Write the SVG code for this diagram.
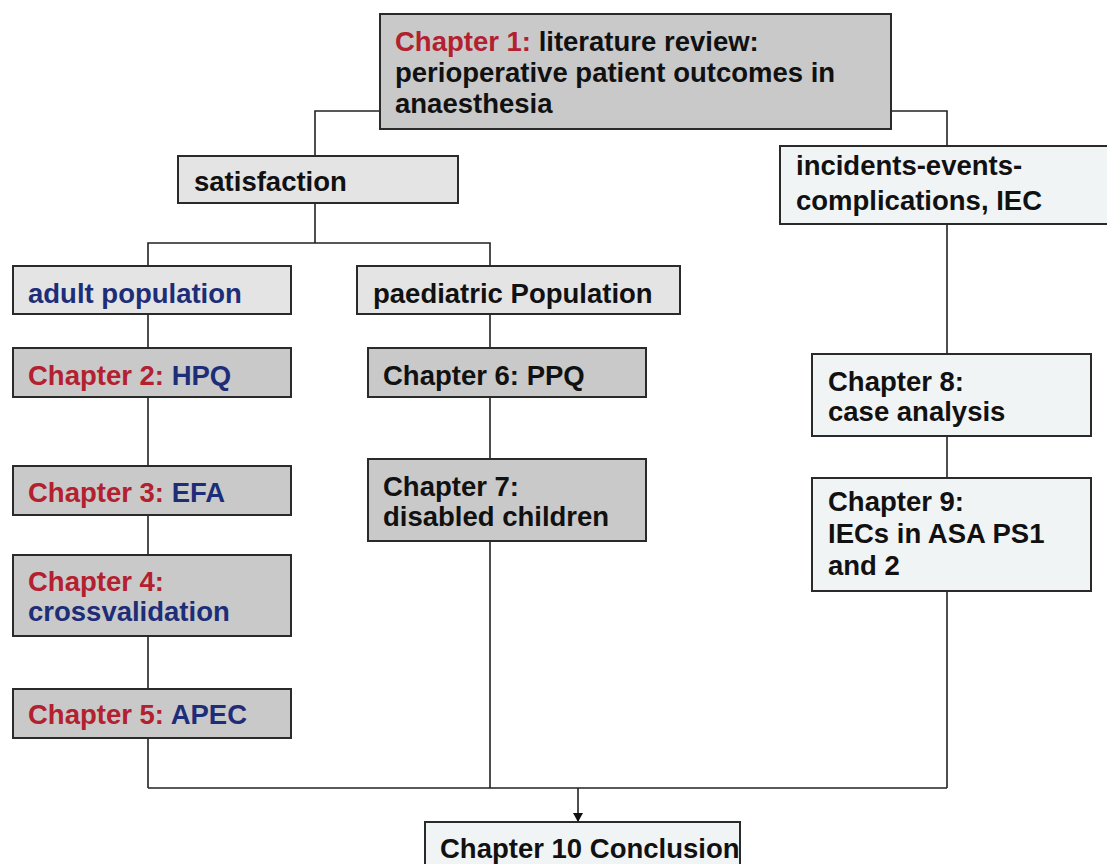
<svg xmlns="http://www.w3.org/2000/svg" width="1107" height="864" viewBox="0 0 1107 864">
<defs>
<style>
text{font-family:"Liberation Sans",Arial,sans-serif;font-size:27.5px;font-weight:bold;fill:#111}
.r{fill:#b3202f}
.b{fill:#1d2d78}
.box{stroke:#2a2a2a;stroke-width:2}
.dk{fill:#c9c9c9}
.lt{fill:#e4e4e4}
.vl{fill:#f1f4f5}
.con{fill:none;stroke:#222;stroke-width:1.6}
</style>
<marker id="ah" markerWidth="10" markerHeight="10" refX="8" refY="5" orient="auto" markerUnits="userSpaceOnUse">
<path d="M0,0 L9,5 L0,10 Z" fill="#111"/>
</marker>
</defs>
<rect width="1107" height="864" fill="#fff"/>
<g id="connectors">
<path class="con" d="M380,111 H315 V156"/>
<path class="con" d="M891,111 H947 V146"/>
<path class="con" d="M315,203 V243 M148,266 V243 H490 V266"/>
<path class="con" d="M148,314 V348 M148,397 V466 M148,515 V555 M148,636 V689 M148,738 V788"/>
<path class="con" d="M490,314 V348 M490,397 V459 M490,541 V788"/>
<path class="con" d="M947,224 V354 M947,436 V478 M947,591 V788"/>
<path class="con" d="M148,788 H947" stroke-width="2.2"/>
<path class="con" d="M578,788 V821" marker-end="url(#ah)"/>
</g>
<g id="ch1"><rect class="box dk" x="380" y="14" width="511" height="115"/>
<text x="395" y="51"><tspan class="r">Chapter 1:</tspan> literature review:</text>
<text x="395" y="82">perioperative patient outcomes in</text>
<text x="395" y="113">anaesthesia</text></g>
<g id="satisfaction"><rect class="box lt" x="178" y="156" width="280" height="47"/>
<text x="194" y="191">satisfaction</text></g>
<g id="iec"><rect class="box vl" x="780" y="146" width="330" height="78"/>
<text x="796" y="175">incidents-events-</text>
<text x="796" y="210">complications, IEC</text></g>
<g id="adult"><rect class="box lt" x="13" y="266" width="278" height="48"/>
<text x="28" y="303" class="b">adult population</text></g>
<g id="paed"><rect class="box lt" x="357" y="266" width="323" height="48"/>
<text x="373" y="303">paediatric Population</text></g>
<g id="ch2"><rect class="box dk" x="13" y="348" width="278" height="49"/>
<text x="28" y="385"><tspan class="r">Chapter 2:</tspan> <tspan class="b">HPQ</tspan></text></g>
<g id="ch3"><rect class="box dk" x="13" y="466" width="278" height="49"/>
<text x="28" y="502"><tspan class="r">Chapter 3:</tspan> <tspan class="b">EFA</tspan></text></g>
<g id="ch4"><rect class="box dk" x="13" y="555" width="278" height="81"/>
<text x="28" y="591" class="r">Chapter 4:</text>
<text x="28" y="621" class="b">crossvalidation</text></g>
<g id="ch5"><rect class="box dk" x="13" y="689" width="278" height="49"/>
<text x="28" y="724"><tspan class="r">Chapter 5:</tspan> <tspan class="b">APEC</tspan></text></g>
<g id="ch6"><rect class="box dk" x="368" y="348" width="278" height="49"/>
<text x="383" y="385">Chapter 6: PPQ</text></g>
<g id="ch7"><rect class="box dk" x="368" y="459" width="278" height="82"/>
<text x="383" y="496">Chapter 7:</text>
<text x="383" y="526">disabled children</text></g>
<g id="ch8"><rect class="box vl" x="812" y="354" width="279" height="82"/>
<text x="828" y="391">Chapter 8:</text>
<text x="828" y="421">case analysis</text></g>
<g id="ch9"><rect class="box vl" x="812" y="478" width="279" height="113"/>
<text x="828" y="511">Chapter 9:</text>
<text x="828" y="543">IECs in ASA PS1</text>
<text x="828" y="575">and 2</text></g>
<g id="ch10"><rect class="box vl" x="425" y="822" width="315" height="50"/>
<text x="440" y="858">Chapter 10 Conclusion</text></g>
</svg>
